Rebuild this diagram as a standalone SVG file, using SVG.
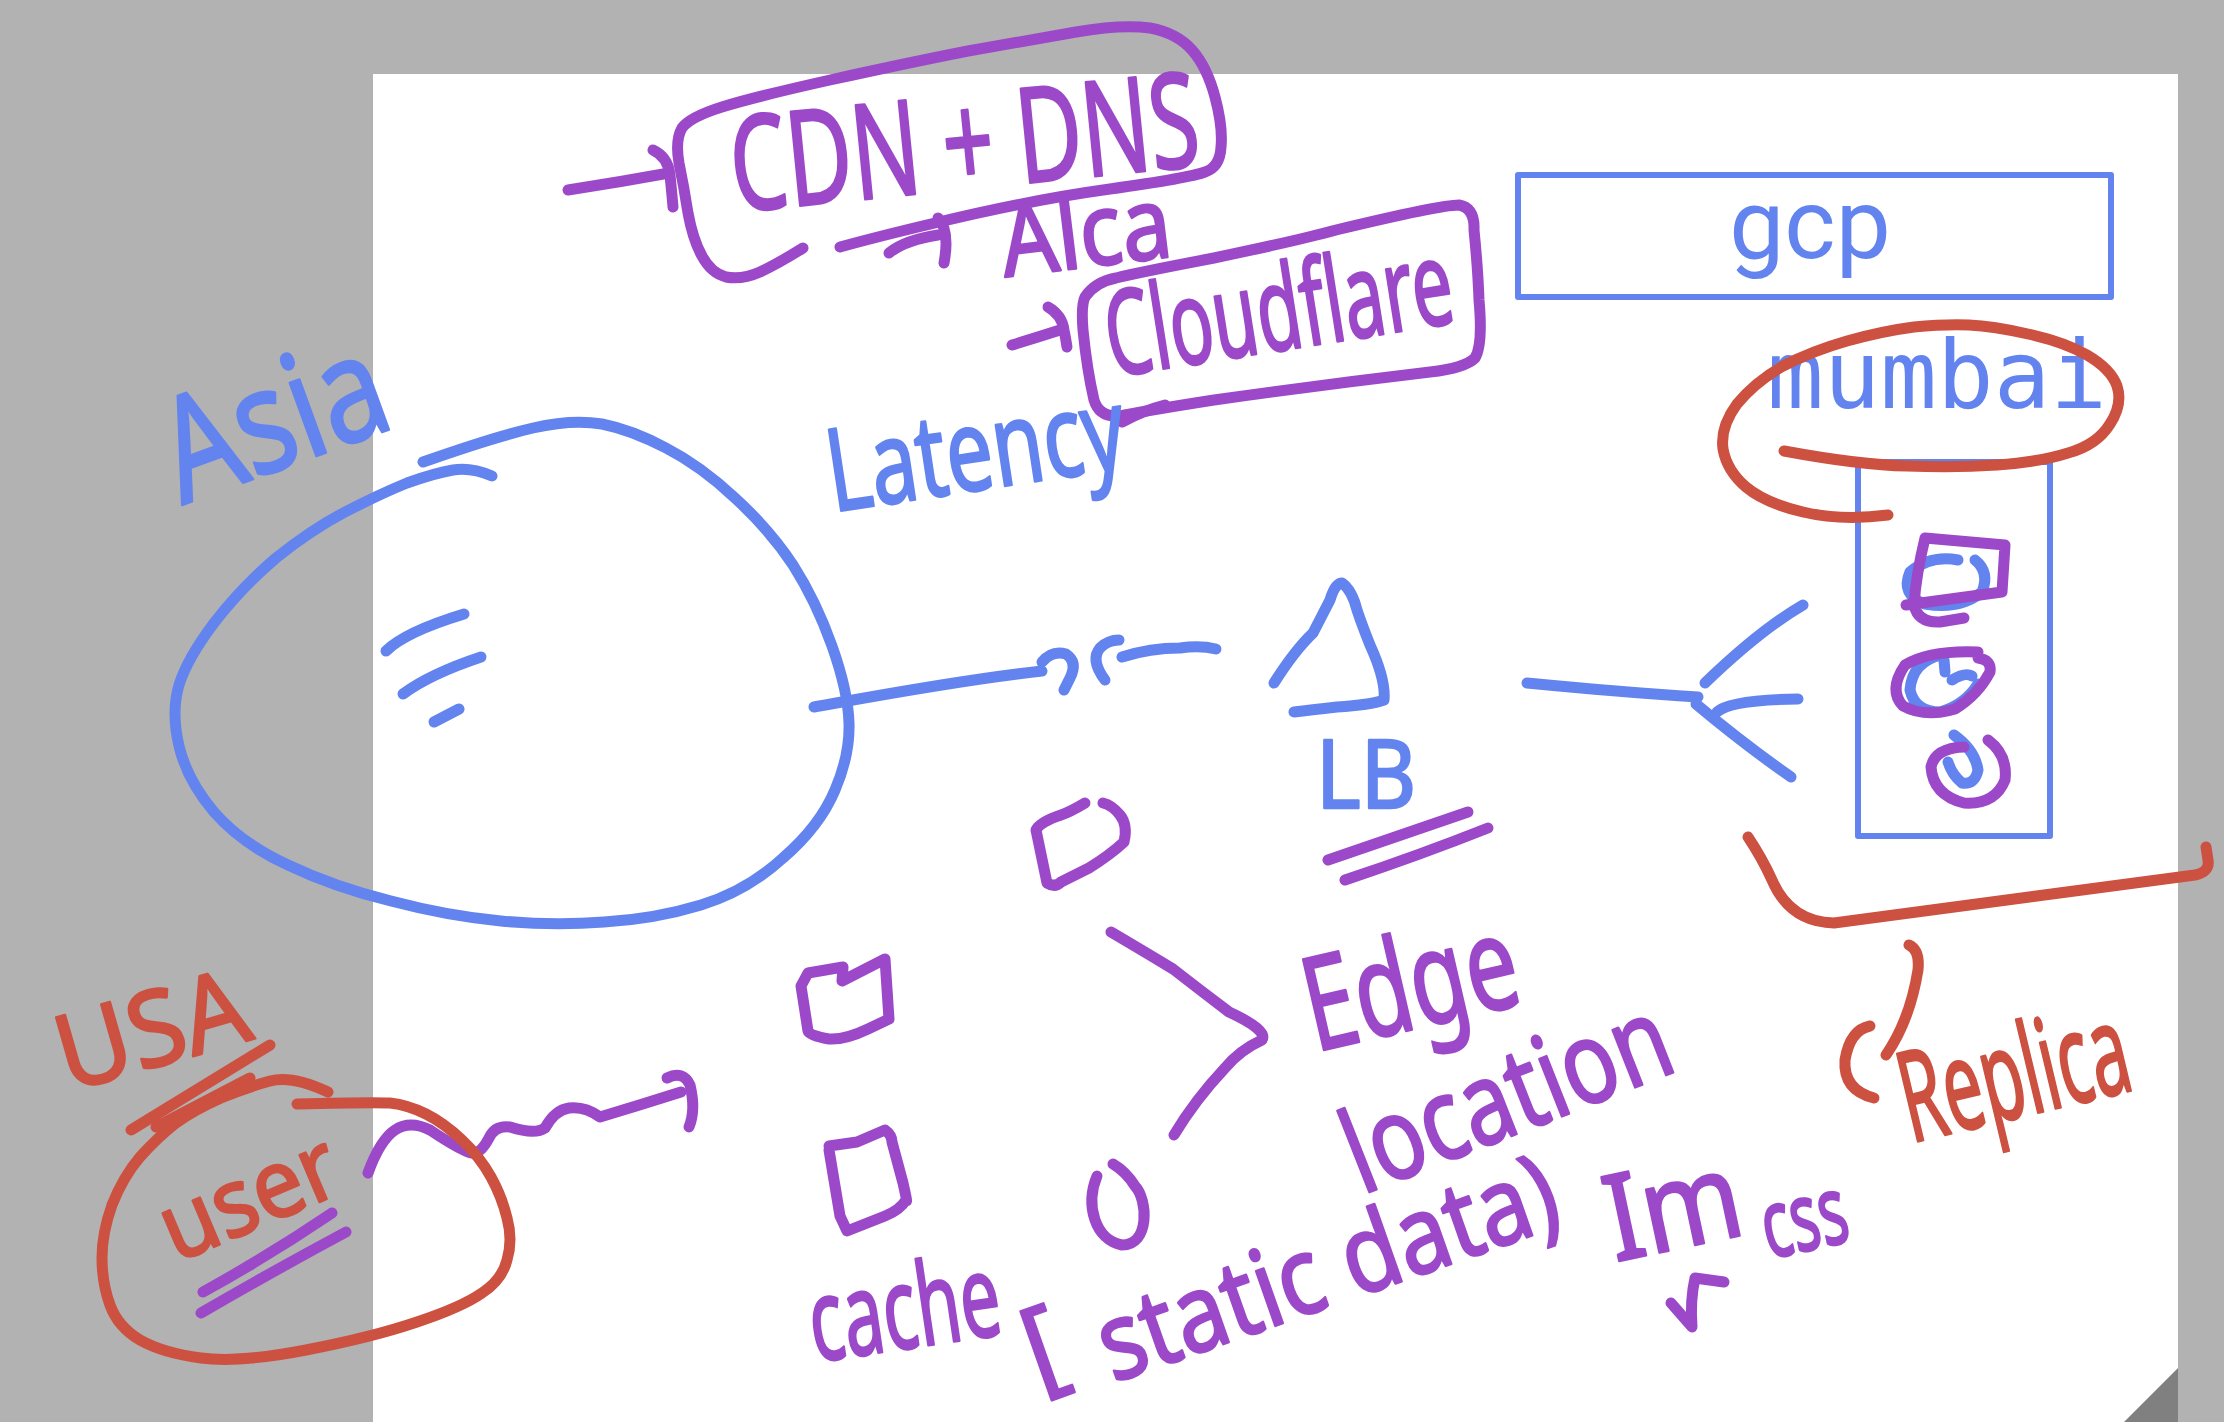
<svg xmlns="http://www.w3.org/2000/svg" width="2224" height="1422" viewBox="0 0 2224 1422">
<style>
.pen{fill:none;stroke-linecap:round;stroke-linejoin:round;stroke-width:11}
.thin{fill:none;stroke-width:6;stroke-linejoin:round}
.b{stroke:#6384ef}
.p{stroke:#9b49c9}
.r{stroke:#cc5141}
.hw{font-family:'Noto Sans','DejaVu Sans',sans-serif;stroke-width:2.5;stroke-linejoin:round}
.tb{fill:#6384ef;stroke:#6384ef}
.tp{fill:#9b49c9;stroke:#9b49c9}
.tr{fill:#cc5141;stroke:#cc5141}
</style>
<g id="page">
<rect x="0" y="0" width="2224" height="1422" fill="#b2b2b2"/>
<rect x="373" y="74" width="1805" height="1348" fill="#ffffff"/>
<polygon points="2124,1422 2178,1368 2178,1422" fill="#808080"/>
</g>

<g id="connectors">
<path class="pen b" d="M814,707 C870,697 960,680 1042,671"/>
<path class="pen b" d="M1042,662 Q1052,650 1066,654 Q1078,662 1070,678 L1064,690"/>
<path class="pen b" d="M1105,680 Q1090,660 1100,648 Q1108,640 1119,640"/>
<path class="pen b" d="M1122,657 Q1150,648 1180,648 Q1200,645 1216,649"/>
<path class="pen b" d="M1527,683 Q1620,692 1698,697"/>
<path class="pen b" d="M1705,683 Q1760,630 1803,605"/>
<path class="pen b" d="M1717,712 Q1730,700 1798,699"/>
<path class="pen b" d="M1696,704 Q1745,745 1791,777"/>
<path class="pen p" d="M568,190 Q620,182 669,173"/>
<path class="pen p" d="M653,150 Q668,157 670,175 Q672,195 673,207"/>
<path class="pen p" d="M889,253 Q905,240 938,235"/>
<path class="pen p" d="M938,218 Q950,230 944,263"/>
<path class="pen p" d="M1012,345 Q1035,338 1060,330"/>
<path class="pen p" d="M1048,307 Q1062,315 1064,330 Q1066,340 1067,347"/>
<path class="pen p" d="M368,1173 Q380,1140 395,1130 Q410,1120 430,1130 Q460,1150 471,1153 Q480,1155 489,1138 Q495,1125 510,1127 Q535,1135 545,1128 Q555,1110 569,1108 Q585,1106 600,1117 Q640,1105 681,1092"/>
<path class="pen p" d="M667,1078 Q683,1070 690,1085 Q696,1110 689,1127"/>
<path class="pen p" d="M1111,932 Q1145,952 1173,969 Q1200,990 1229,1012 Q1268,1030 1262,1040 Q1240,1050 1225,1068 Q1195,1100 1174,1135"/>
</g>

<g id="node-cdn-dns">
<path class="pen p" d="M803,248 Q779,263 760,272 Q742,280 726,277 Q711,273 702,256 Q693,240 688,213 Q684,187 679,163 Q675,140 682,128 Q690,117 722,107 Q754,97 830,80 Q907,63 968,51 Q1030,40 1076,32 Q1122,24 1150,28 Q1177,33 1192,50 Q1207,67 1215,97 Q1223,127 1221,147 Q1220,167 1205,172 Q1189,178 1110,189 Q1030,200 935,223 Q880,236 840,247"/>
<text class="hw tp" x="735" y="212" font-size="132" textLength="470" lengthAdjust="spacingAndGlyphs" transform="rotate(-5.7 735 212)">CDN + DNS</text>
</g>

<g id="node-akamai">
<text class="hw tp" x="1005" y="277" font-size="100" textLength="171" lengthAdjust="spacingAndGlyphs" transform="rotate(-7 1005 277)">Alca</text>
</g>

<g id="node-cloudflare">
<path class="pen p" d="M1085,297 Q1095,282 1116,278 Q1140,272 1214,258 Q1300,240 1336,230 Q1440,205 1459,205 Q1475,208 1474,230 Q1478,270 1479,300 Q1483,345 1475,358 Q1465,368 1430,372 Q1320,385 1214,400 Q1150,410 1125,415 Q1100,420 1094,400 Q1087,370 1083,330 Q1081,305 1085,297"/>
<path class="pen p" d="M1122,422 Q1145,410 1165,405"/>
<text class="hw tp" x="1112" y="377" font-size="118" textLength="350" lengthAdjust="spacingAndGlyphs" transform="rotate(-9 1112 377)">Cloudflare</text>
</g>

<g id="node-gcp">
<rect class="thin b" x="1518" y="175" width="593" height="122"/>
<text x="1810" y="258" font-family="Roboto, 'Noto Sans', sans-serif" font-size="98" fill="#6384ef" text-anchor="middle">gcp</text>
</g>

<g id="node-mumbai">
<text x="1767" y="408" font-family="'DejaVu Sans Mono', 'Liberation Mono', monospace" font-size="94" fill="#6384ef" textLength="340" lengthAdjust="spacingAndGlyphs">mumbai</text>
<rect class="thin b" x="1858" y="462" width="192" height="374"/>
<path class="pen r" d="M1784,451 Q1860,465 1907,466 Q1955,468 1997,465 Q2040,462 2068,453 Q2097,445 2110,424 Q2123,404 2117,386 Q2111,369 2087,355 Q2064,342 2028,334 Q1993,326 1969,325 Q1945,324 1914,327 Q1883,331 1847,341 Q1812,351 1783,366 Q1755,382 1737,404 Q1720,427 1723,449 Q1727,471 1746,487 Q1765,503 1803,512 Q1841,521 1888,515"/>
<path class="pen b" d="M1958,560 Q1930,555 1910,572 Q1900,595 1925,604 Q1960,610 1982,592 Q1990,572 1975,560"/>
<path class="pen p" d="M1925,538 L2005,545 L2002,592 L1906,605 M1925,538 Q1916,575 1914,605 Q1918,623 1940,622 L1964,618"/>
<path class="pen b" d="M1941,655 Q1912,662 1910,690 Q1915,712 1940,712 Q1965,705 1978,684 M1944,660 L1945,672 M1952,680 Q1965,672 1972,676"/>
<path class="pen p" d="M1978,652 Q1930,650 1905,665 Q1888,690 1903,706 Q1925,718 1955,709 Q1978,695 1990,672 Q1992,660 1978,658"/>
<path class="pen b" d="M1954,735 Q1975,750 1978,770 Q1975,785 1962,783 Q1952,775 1948,762"/>
<path class="pen p" d="M1964,747 Q1935,748 1931,767 Q1933,795 1964,803 Q1995,805 2005,780 Q2008,755 1988,740"/>
</g>

<g id="node-replica">
<path class="pen r" d="M1748,837 Q1762,858 1772,880 Q1790,922 1834,923 L2195,875 Q2210,872 2208,860 L2206,847"/>
<path class="pen r" d="M1870,1026 Q1850,1030 1845,1060 Q1843,1090 1874,1098"/>
<path class="pen r" d="M1909,945 Q1920,950 1918,970 Q1910,1020 1886,1055"/>
<text class="hw tr" x="1911" y="1143" font-size="126" textLength="232" lengthAdjust="spacingAndGlyphs" transform="rotate(-13.4 1911 1143)">Replica</text>
</g>

<g id="node-asia">
<path class="pen b" d="M423,462 Q494,437 533,428 Q572,419 602,424 Q632,430 666,448 Q701,466 735,498 Q770,530 793,565 Q816,601 832,646 Q848,691 849,723 Q850,755 835,790 Q820,826 783,858 Q747,891 701,905 Q655,919 604,922 Q554,926 501,921 Q448,916 391,901 Q334,887 288,865 Q242,844 214,812 Q187,780 179,746 Q171,712 179,685 Q187,659 214,623 Q242,587 276,558 Q311,530 345,512 Q380,494 407,483 Q435,473 453,470 Q471,467 492,476"/>
<path class="pen b" d="M386,651 Q405,632 464,614"/>
<path class="pen b" d="M403,694 Q430,674 481,657"/>
<path class="pen b" d="M434,722 L459,709"/>
<text class="hw tb" x="182" y="505" font-size="145" textLength="230" lengthAdjust="spacingAndGlyphs" transform="rotate(-20 182 505)">Asia</text>
</g>

<g id="node-latency">
<text class="hw tb" x="833" y="512" font-size="115" textLength="300" lengthAdjust="spacingAndGlyphs" transform="rotate(-8.6 833 512)">Latency</text>
</g>

<g id="node-lb">
<path class="pen b" d="M1274,683 Q1295,650 1313,633 L1330,600 Q1335,583 1342,583 Q1352,590 1357,610 Q1362,625 1370,645 Q1386,680 1384,700 Q1370,705 1337,707 Q1310,710 1294,712"/>
<text class="hw tb" x="1316" y="808" font-size="95" textLength="100" lengthAdjust="spacingAndGlyphs">LB</text>
<path class="pen p" d="M1328,860 Q1400,835 1468,812"/>
<path class="pen p" d="M1345,880 Q1420,855 1488,828"/>
</g>

<g id="node-usa-user">
<text class="hw tr" x="68" y="1092" font-size="105" textLength="195" lengthAdjust="spacingAndGlyphs" transform="rotate(-16 68 1092)">USA</text>
<path class="pen r" d="M131,1130 L270,1045"/>
<path class="pen r" d="M156,1127 L250,1078"/>
<path class="pen r" d="M328,1092 Q292,1075 270,1081 Q248,1087 221,1098 Q194,1110 176,1123 Q158,1137 140,1157 Q123,1177 112,1205 Q102,1233 102,1258 Q102,1283 110,1305 Q118,1327 140,1340 Q163,1353 201,1358 Q239,1363 306,1350 Q373,1337 417,1322 Q462,1307 482,1293 Q502,1280 507,1260 Q513,1240 507,1218 Q502,1197 491,1177 Q480,1157 462,1140 Q444,1123 426,1114 Q408,1105 390,1103 Q372,1102 297,1104"/>
<text class="hw tr" x="176" y="1263" font-size="95" textLength="185" lengthAdjust="spacingAndGlyphs" transform="rotate(-23 176 1263)">user</text>
<path class="pen p" d="M332,1213 Q270,1255 203,1292"/>
<path class="pen p" d="M346,1232 Q275,1270 201,1313"/>
</g>

<g id="node-cache">
<path class="pen p" d="M1085,803 Q1070,812 1061,815 Q1040,822 1036,830 L1047,883 Q1055,888 1061,882 L1089,868 Q1110,855 1124,842 Q1128,825 1120,815 Q1112,805 1103,803"/>
<path class="pen p" d="M808,973 L843,967 L842,981 L885,959 L889,1019 L868,1029 Q845,1040 829,1039 Q810,1036 808,1031 L801,986 Z"/>
<path class="pen p" d="M829,1146 L857,1142 L885,1130 Q892,1135 892,1142 L903,1183 Q908,1205 906,1200 Q900,1210 885,1216 L847,1231 L840,1216 L829,1150"/>
<path class="pen p" d="M1097,1176 C1085,1205 1095,1240 1122,1245 C1150,1245 1148,1200 1135,1186 C1128,1175 1120,1168 1113,1164"/>
<text class="hw tp" x="815" y="1362" font-size="115" textLength="192" lengthAdjust="spacingAndGlyphs" transform="rotate(-8.4 815 1362)">cache</text>
<text class="hw tp" font-size="108" transform="rotate(-19.4 1113 1383)"><tspan x="1041" y="1362">[</tspan><tspan x="1113" y="1383" textLength="480" lengthAdjust="spacingAndGlyphs">static data)</tspan></text>
</g>

<g id="node-edge">
<text class="hw tp" x="1315" y="1052" font-size="130" textLength="216" lengthAdjust="spacingAndGlyphs" transform="rotate(-13 1315 1052)">Edge</text>
<text class="hw tp" x="1362" y="1195" font-size="115" textLength="342" lengthAdjust="spacingAndGlyphs" transform="rotate(-21.5 1362 1195)">location</text>
</g>

<g id="node-inmem">
<text class="hw tp" x="1615" y="1262" font-size="120" textLength="136" lengthAdjust="spacingAndGlyphs" transform="rotate(-12 1615 1262)">Im</text>
<path class="pen p" d="M1671,1303 L1692,1327 Q1690,1300 1695,1278 L1724,1282"/>
<text class="hw tp" x="1769" y="1259" font-size="95" textLength="86" lengthAdjust="spacingAndGlyphs" transform="rotate(-12.7 1769 1259)">css</text>
</g>
</svg>
